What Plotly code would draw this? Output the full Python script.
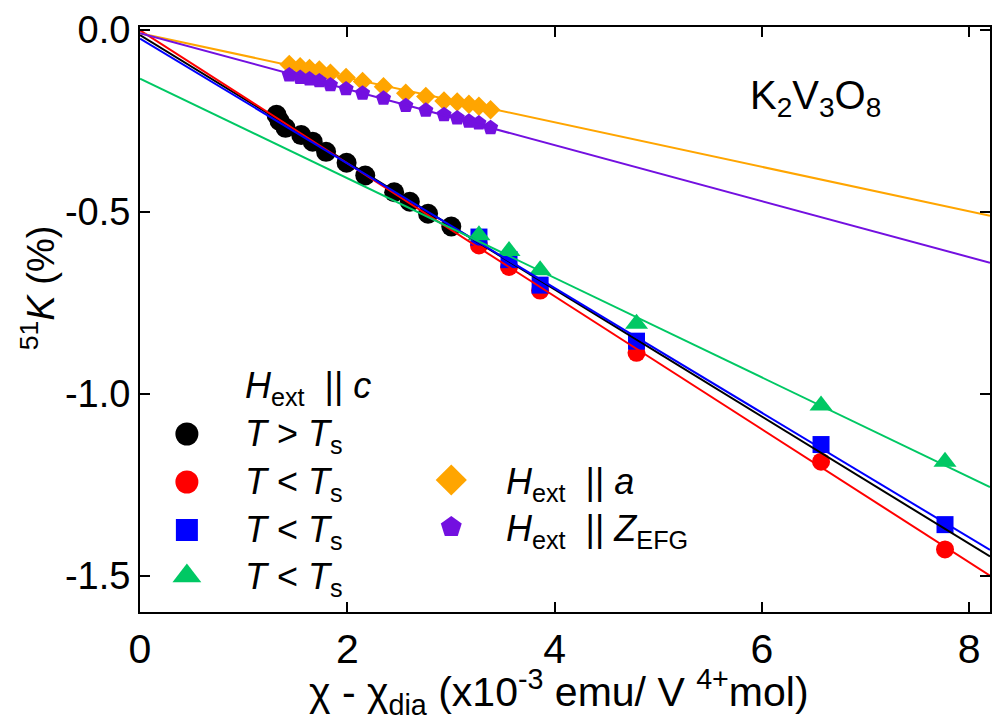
import plotly.graph_objects as go

# ---------------- data ----------------
# H_ext || c, T > Ts (black circles)
x_black = [1.317, 1.346, 1.404, 1.555, 1.666, 1.795, 1.993, 2.173, 2.452, 2.603, 2.779, 3.003]
y_black = [-0.234, -0.251, -0.270, -0.290, -0.308, -0.336, -0.366, -0.401, -0.447, -0.473, -0.506, -0.541]

# H_ext || c, T < Ts (three sites)
x_low = [3.27, 3.56, 3.86, 4.79, 6.57, 7.766]
y_red = [-0.593, -0.652, -0.717, -0.888, -1.187, -1.428]
y_blue = [-0.570, -0.632, -0.702, -0.856, -1.140, -1.360]
y_green = [-0.565, -0.608, -0.661, -0.808, -1.033, -1.187]

# H_ext || a (orange diamonds) and H_ext || Z_EFG (purple pentagons)
x_ab = [1.44, 1.545, 1.635, 1.73, 1.837, 1.988, 2.147, 2.349, 2.564, 2.757, 2.933, 3.06, 3.173, 3.269, 3.382]
y_orange = [-0.096, -0.102, -0.107, -0.111, -0.120, -0.132, -0.143, -0.157, -0.175, -0.184, -0.196, -0.199, -0.205, -0.211, -0.220]
y_purple = [-0.125, -0.132, -0.136, -0.141, -0.152, -0.163, -0.175, -0.189, -0.209, -0.222, -0.234, -0.243, -0.252, -0.257, -0.270]

# linear fits: (intercept, slope)
fit_names = ["black", "red", "blue", "green", "orange", "purple"]
fit_intercepts = [-0.015, -0.002, -0.025, -0.135, -0.010, -0.010]
fit_slopes = [-0.1747, -0.1827, -0.1713, -0.1368, -0.0612, -0.0769]

x_ticks = [0, 2, 4, 6, 8]
x_ticktext = ["0", "2", "4", "6", "8"]
y_ticks = [0.0, -0.5, -1.0, -1.5]
y_ticktext = ["0.0", "-0.5", "-1.0", "-1.5"]

X_RANGE = [0, 8.2]
Y_RANGE = [-1.6, 0.007]

COL = {
    "black": "#000000",
    "red": "#ff0000",
    "blue": "#0000ff",
    "green": "#00c864",
    "orange": "#ffa500",
    "purple": "#7310e0",
}

W, H = 999, 727
ML, MR, MT, MB = 140, 7, 27, 115
PW, PH = W - ML - MR, H - MT - MB


def px2paper(px, py):
    return (px - ML) / PW, (H - MB - py) / PH


FONT = "Liberation Sans, Arial, Helvetica, sans-serif"
NARROW = "Liberation Sans Narrow, Arial Narrow, Liberation Sans, sans-serif"

fig = go.Figure()

# markers (drawn under lines)
def add_markers(x, y, color, symbol, size):
    fig.add_trace(go.Scatter(x=x, y=y, mode="markers",
                             marker=dict(color=color, symbol=symbol, size=size, line=dict(width=0)),
                             showlegend=False, hoverinfo="skip"))

add_markers(x_black, y_black, COL["black"], "circle", 20)
add_markers(x_low, y_red, COL["red"], "circle", 18)
add_markers(x_low, y_blue, COL["blue"], "square", 17)
add_markers(x_low, y_green, COL["green"], "triangle-up", 20)
add_markers(x_ab, y_orange, COL["orange"], "diamond", 15)
add_markers(x_ab, y_purple, COL["purple"], "pentagon", 16)

# fit lines
for name, b, m in zip(fit_names, fit_intercepts, fit_slopes):
    xs = [X_RANGE[0], X_RANGE[1]]
    ys = [b + m * v for v in xs]
    fig.add_trace(go.Scatter(x=xs, y=ys, mode="lines",
                             line=dict(color=COL[name], width=2),
                             showlegend=False, hoverinfo="skip", cliponaxis=True))

# ---------------- custom legend ----------------
leg_items = [
    # (marker px x, px y, color, symbol, size)
    (187, 434, COL["black"], "circle", 23),
    (187, 482, COL["red"], "circle", 23),
    (187, 530, COL["blue"], "square", 22),
    (187, 576, COL["green"], "triangle-up", 25),
    (452, 480, COL["orange"], "diamond", 24),
    (452, 527, COL["purple"], "pentagon", 22),
]
for px, py, c, s, sz in leg_items:
    xp, yp = px2paper(px, py)
    fig.add_trace(go.Scatter(x=[xp], y=[yp], xaxis="x2", yaxis="y2", mode="markers",
                             marker=dict(color=c, symbol=s, size=sz, line=dict(width=0)),
                             showlegend=False, hoverinfo="skip"))

annotations = []

def add_text(text, px, py, size=36, xanchor="left", yanchor="middle", font=FONT, angle=0):
    xp, yp = px2paper(px, py)
    annotations.append(dict(text=text, x=xp, y=yp, xref="paper", yref="paper",
                            xanchor=xanchor, yanchor=yanchor, showarrow=False,
                            textangle=angle,
                            font=dict(family=font, size=size, color="black")))

add_text("<i>H</i><sub>ext</sub>  || <i>c</i>", 243, 388)
add_text("<i>T</i> &gt; <i>T</i><sub>s</sub>", 243, 436)
add_text("<i>T</i> &lt; <i>T</i><sub>s</sub>", 243, 484)
add_text("<i>T</i> &lt; <i>T</i><sub>s</sub>", 243, 532)
add_text("<i>T</i> &lt; <i>T</i><sub>s</sub>", 243, 579)
add_text("<i>H</i><sub>ext</sub>  || <i>a</i>", 505, 484)
add_text("<i>H</i><sub>ext</sub>  || <i>Z</i><sub>EFG</sub>", 505, 531)

add_text("K<sub>2</sub>V<sub>3</sub>O<sub>8</sub>", 817, 98, size=40, xanchor="center")

# axis titles
add_text("χ - χ<sub>dia</sub> (x10<sup>-3</sup> emu/ V <sup>4+</sup>mol)", 560, 692, size=41,
         xanchor="center", font=NARROW)
add_text("<sup>51</sup><i>K</i> (%)", 38, 288, size=38, xanchor="center", angle=-90)

fig.update_layout(
    width=W, height=H, autosize=False,
    margin=dict(l=ML, r=MR, t=MT, b=MB, pad=0),
    paper_bgcolor="white", plot_bgcolor="white",
    showlegend=False,
    annotations=annotations,
    xaxis=dict(range=X_RANGE, tickvals=x_ticks, ticktext=x_ticktext,
               ticks="inside", ticklen=10, tickwidth=1.5, tickcolor="black",
               showline=True, linecolor="black", linewidth=2, mirror="ticks",
               showgrid=False, zeroline=False,
               tickfont=dict(family=NARROW, size=41, color="black")),
    yaxis=dict(range=Y_RANGE, tickvals=y_ticks, ticktext=y_ticktext,
               ticks="inside", ticklen=10, tickwidth=1.5, tickcolor="black",
               showline=True, linecolor="black", linewidth=2, mirror="ticks",
               showgrid=False, zeroline=False,
               tickfont=dict(family=FONT, size=38, color="black")),
    xaxis2=dict(range=[0, 1], domain=[0, 1], visible=False, overlaying="x", anchor="y2"),
    yaxis2=dict(range=[0, 1], domain=[0, 1], visible=False, overlaying="y", anchor="x2"),
)

fig.write_html("out.html")
